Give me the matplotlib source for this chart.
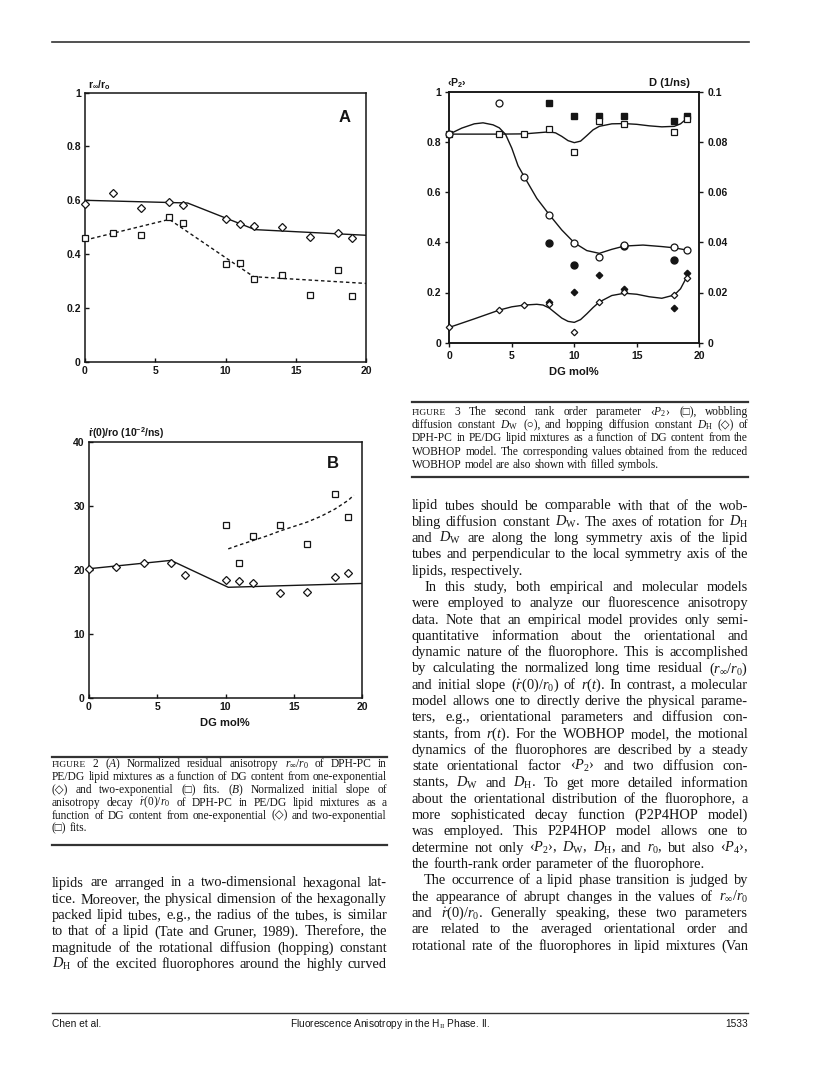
import matplotlib
matplotlib.use('Agg')
import matplotlib.pyplot as plt

plt.rcParams['mathtext.fontset'] = 'custom'
plt.rcParams['mathtext.rm'] = 'Liberation Serif'
plt.rcParams['mathtext.it'] = 'Liberation Serif:italic'
plt.rcParams['mathtext.bf'] = 'Liberation Sans:bold'

K = '#151515'
SANS = ['Liberation Sans', 'DejaVu Sans']
SERIF = ['Liberation Serif', 'DejaVu Sans']

# ---- Fig 2A : r_inf/r0 vs DG mol%
dg_a = [0, 2, 4, 6, 7, 10, 11, 12, 14, 16, 18, 19]
rinf_one = [0.585, 0.626, 0.570, 0.592, 0.584, 0.530, 0.511, 0.503, 0.502, 0.465, 0.478, 0.458]
rinf_two = [0.460, 0.477, 0.471, 0.537, 0.514, 0.364, 0.367, 0.309, 0.321, 0.249, 0.341, 0.245]
fitA_one_x = [0, 7.3, 12.1, 20]
fitA_one_y = [0.600, 0.590, 0.491, 0.470]
fitA_two_x = [0, 6, 12, 20]
fitA_two_y = [0.452, 0.529, 0.316, 0.291]

# ---- Fig 2B : initial slope
dg_b_one = [0, 2, 4, 6, 7, 10, 11, 12, 14, 16, 18, 19]
slope_one = [20.2, 20.4, 21.1, 21.1, 19.2, 18.4, 18.3, 18.0, 16.4, 16.5, 18.9, 19.5]
dg_b_two = [10, 11, 12, 14, 16, 18, 19]
slope_two = [27.1, 21.1, 25.3, 27.1, 24.1, 31.9, 28.3]
fitB_one_x = [0, 6, 10.2, 20]
fitB_one_y = [20.2, 21.5, 17.3, 17.9]
fitB_two_x = [10.2, 11, 12, 13, 14, 15, 16, 17, 18, 19, 19.4]
fitB_two_y = [23.3, 23.9, 24.6, 25.3, 26.1, 26.8, 27.5, 28.4, 29.5, 30.9, 31.7]

# ---- Fig 3 : WOBHOP parameters
dg3 = [0, 4, 6, 8, 10, 12, 14, 18, 19]
p2_open = [0.831, 0.831, 0.831, 0.853, 0.761, 0.883, 0.873, 0.841, 0.891]
dw_open = [0.0831, 0.0954, 0.0661, 0.0510, 0.0398, 0.0340, 0.0389, 0.0380, 0.0369]
dh_open = [0.0061, 0.0130, 0.0150, 0.0153, 0.0041, 0.0161, 0.0201, 0.0190, 0.0259]
dg3_red = [8, 10, 12, 14, 18, 19]
p2_red = [0.954, 0.903, 0.903, 0.903, 0.882, 0.903]
dh_red = [0.0163, 0.0201, 0.0268, 0.0212, 0.0139, 0.0279]
dg3_dw_red = [8, 10, 14, 18]
dw_red = [0.0398, 0.0309, 0.0386, 0.0329]
p2_curve_x = [0, 2, 4, 6, 7, 8, 8.5, 9, 9.5, 10, 10.5, 11, 11.5, 12, 13, 14, 15, 16, 17, 18, 18.5, 19]
p2_curve_y = [0.831, 0.831, 0.831, 0.832, 0.836, 0.840, 0.836, 0.822, 0.805, 0.797, 0.803, 0.825,
              0.848, 0.862, 0.872, 0.873, 0.870, 0.864, 0.860, 0.862, 0.872, 0.893]
dw_curve_x = [0, 1, 2, 2.7, 3.5, 4, 4.5, 5, 5.5, 6, 7, 8, 9, 10, 11, 12, 13, 14, 15.5, 17, 18, 19]
dw_curve_y = [0.0831, 0.0855, 0.0872, 0.0876, 0.0868, 0.0856, 0.0830, 0.0775, 0.0705, 0.0661, 0.0575,
              0.0510, 0.0449, 0.0398, 0.0367, 0.0356, 0.0372, 0.0385, 0.0389, 0.0383, 0.0378, 0.0369]
dh_curve_x = [0, 2, 4, 5, 6, 7, 7.5, 8, 8.5, 9, 9.5, 10, 10.5, 11, 11.5, 12, 13, 14, 15, 16, 17, 18, 18.5, 19]
dh_curve_y = [0.0061, 0.0095, 0.0130, 0.0143, 0.0150, 0.0153, 0.0150, 0.0138, 0.0118, 0.0098, 0.0085,
              0.0081, 0.0092, 0.0115, 0.0140, 0.0162, 0.0188, 0.0197, 0.0193, 0.0183, 0.0177, 0.0190,
              0.0215, 0.0262]

x_ticks = [0, 5, 10, 15, 20]

W, H = 816, 1082
fig = plt.figure(figsize=(W / 100, H / 100), dpi=100)


def fx(x):
    return x / W


def fy(y):
    return 1 - y / H


def box(l, t, r, b):
    return [l / W, 1 - b / H, (r - l) / W, (b - t) / H]


def hline(x0, x1, y, lw=1.0, color='#333333'):
    fig.add_artist(plt.Line2D([fx(x0), fx(x1)], [fy(y), fy(y)], lw=lw, color=color))


def style(ax, direction='in'):
    for s in ax.spines.values():
        s.set_linewidth(1.1)
        s.set_color(K)
    ax.tick_params(direction=direction, length=3, width=1, labelsize=7.5, pad=3, colors=K)
    for lab in ax.get_xticklabels() + ax.get_yticklabels():
        lab.set_fontweight('bold')
        lab.set_family(SANS)


dash = (0, (2.5, 2))
mk = dict(mfc='white', mec=K, mew=0.9, ls='none', clip_on=False, zorder=3)

# Figure 2A
axA = fig.add_axes(box(85, 92.7, 366, 361.7))
axA.plot(fitA_one_x, fitA_one_y, '-', color=K, lw=1.0)
axA.plot(fitA_two_x, fitA_two_y, color=K, lw=1.0, ls=dash)
axA.plot(dg_a, rinf_one, marker='D', ms=4, **mk)
axA.plot(dg_a, rinf_two, marker='s', ms=5, **mk)
axA.set_xlim(0, 20)
axA.set_ylim(0, 1)
axA.set_xticks(x_ticks)
axA.set_yticks([0, 0.2, 0.4, 0.6, 0.8, 1])
axA.set_yticklabels(['0', '0.2', '0.4', '0.6', '0.8', '1'])
style(axA)
fig.text(fx(345), fy(118), 'A', ha='center', va='center', fontsize=12, weight='bold', family=SANS, color=K)
fig.text(fx(88), fy(85), r'r$_{\mathbf{\infty}}$/r$_{\mathbf{o}}$', ha='left', va='center',
         fontsize=7.5, weight='bold', family=SANS, color=K)

# Figure 2B
axB = fig.add_axes(box(89, 442, 362, 698))
axB.plot(fitB_one_x, fitB_one_y, '-', color=K, lw=1.0)
axB.plot(fitB_two_x, fitB_two_y, color=K, lw=1.0, ls=dash)
axB.plot(dg_b_one, slope_one, marker='D', ms=4, **mk)
axB.plot(dg_b_two, slope_two, marker='s', ms=5, **mk)
axB.set_xlim(0, 20)
axB.set_ylim(0, 40)
axB.set_xticks(x_ticks)
axB.set_yticks([0, 10, 20, 30, 40])
style(axB)
fig.text(fx(333), fy(463), 'B', ha='center', va='center', fontsize=12, weight='bold', family=SANS, color=K)
fig.text(fx(88), fy(433), r'ṙ(0)/ro (10$^{\mathbf{-2}}$/ns)', ha='left', va='center',
         fontsize=7.5, weight='bold', family=SANS, color=K)
fig.text(fx(225), fy(723), 'DG mol%', ha='center', va='center', fontsize=8, weight='bold', family=SANS, color=K)

# Figure 3
ax3 = fig.add_axes(box(449.3, 91.7, 699.3, 342.7))
axD = ax3.twinx()
ax3.plot(p2_curve_x, p2_curve_y, '-', color=K, lw=1.0)
ax3.plot(dg3, p2_open, marker='s', ms=4.5, **mk)
ax3.plot(dg3_red, p2_red, marker='s', ms=4.5, ls='none', color=K, clip_on=False)
axD.plot(dw_curve_x, dw_curve_y, '-', color=K, lw=1.0)
axD.plot(dh_curve_x, dh_curve_y, '-', color=K, lw=1.0)
axD.plot(dg3, dw_open, marker='o', ms=5, **mk)
axD.plot(dg3, dh_open, marker='D', ms=3.3, **mk)
axD.plot(dg3_dw_red, dw_red, marker='o', ms=5, ls='none', color=K, clip_on=False)
axD.plot(dg3_red, dh_red, marker='D', ms=3.3, ls='none', color=K, clip_on=False)
ax3.set_xlim(0, 20)
ax3.set_ylim(0, 1)
axD.set_ylim(0, 0.1)
ax3.set_xticks(x_ticks)
ax3.set_yticks([0, 0.2, 0.4, 0.6, 0.8, 1])
ax3.set_yticklabels(['0', '0.2', '0.4', '0.6', '0.8', '1'])
axD.set_yticks([0, 0.02, 0.04, 0.06, 0.08, 0.1])
axD.set_yticklabels(['0', '0.02', '0.04', '0.06', '0.08', '0.1'])
style(ax3, 'out')
style(axD, 'out')
fig.text(fx(447), fy(83), r'‹P$_{\mathbf{2}}$›', ha='left', va='center', fontsize=7.5,
         weight='bold', family=SANS, color=K)
fig.text(fx(649), fy(83), 'D (1/ns)', ha='left', va='center', fontsize=8, weight='bold', family=SANS, color=K)
fig.text(fx(574), fy(372), 'DG mol%', ha='center', va='center', fontsize=8, weight='bold', family=SANS, color=K)

# ---- text blocks
renderer = fig.canvas.get_renderer()


def natural_width(line, size):
    t = fig.text(0, 0, line, fontsize=size, family=SERIF)
    w = t.get_window_extent(renderer).width
    t.remove()
    return w


def fit_size(lines, width, ref=10.0):
    # size at which the widest plain (no math) full line just fits the column
    plain = [ln for ln in lines if '$' not in ln]
    widest = max(natural_width(ln, ref) for ln in plain)
    return ref * width / widest * 0.995


def put_line(text, x0, x1, y, size, justify=True, indent=0):
    words = text.split()
    arts = []
    for w in words:
        sz = size * 0.82 if w == 'FIGURE' else size
        arts.append(fig.text(0, 0, w, fontsize=sz, family=SERIF, va='baseline', ha='left', color=K))
    widths = [a.get_window_extent(renderer).width for a in arts]
    span = x1 - x0 - indent
    scale = 1.0
    if justify and len(arts) > 1:
        gap = (span - sum(widths)) / (len(arts) - 1)
        if gap < 1.5:
            # squeeze the words a little instead of overlapping
            gap = 1.5
            scale = (span - gap * (len(arts) - 1)) / sum(widths)
    else:
        gap = size * 1.389 * 0.25
    x = x0 + indent
    for a, w in zip(arts, widths):
        if scale < 1.0:
            a.set_fontsize(a.get_fontsize() * scale)
            w = w * scale
        a.set_position((fx(x), fy(y)))
        x += w + gap


def put_block(paras, x0, x1, y0, step, size, base=3.5, indent=12):
    y = y0
    for ind, ends, lines in paras:
        for i, ln in enumerate(lines):
            last = ends and i == len(lines) - 1
            put_line(ln, x0, x1, y + base, size, justify=not last, indent=indent if (ind and i == 0) else 0)
            y += step


cap2 = [
    r'FIGURE 2  ($A$) Normalized residual anisotropy $r_\infty/r_0$ of DPH-PC in',
    'PE/DG lipid mixtures as a function of DG content from one-exponential',
    r'(◇) and two-exponential (□) fits. ($B$) Normalized initial slope of',
    r'anisotropy decay $\dot{r}(0)/r_0$ of DPH-PC in PE/DG lipid mixtures as a',
    'function of DG content from one-exponential (◇) and two-exponential',
    '(□) fits.',
]
cap3 = [
    r'FIGURE 3  The second rank order parameter ‹$P_2$› (□), wobbling',
    r'diffusion constant $D_\mathrm{W}$ (○), and hopping diffusion constant $D_\mathrm{H}$ (◇) of',
    'DPH-PC in PE/DG lipid mixtures as a function of DG content from the',
    'WOBHOP model. The corresponding values obtained from the reduced',
    'WOBHOP model are also shown with filled symbols.',
]
left_body = [
    'lipids are arranged in a two-dimensional hexagonal lat-',
    'tice. Moreover, the physical dimension of the hexagonally',
    'packed lipid tubes, e.g., the radius of the tubes, is similar',
    'to that of a lipid (Tate and Gruner, 1989). Therefore, the',
    'magnitude of the rotational diffusion (hopping) constant',
    r'$D_\mathrm{H}$ of the excited fluorophores around the highly curved',
]
right_p1 = [
    'lipid tubes should be comparable with that of the wob-',
    r'bling diffusion constant $D_\mathrm{W}$. The axes of rotation for $D_\mathrm{H}$',
    r'and $D_\mathrm{W}$ are along the long symmetry axis of the lipid',
    'tubes and perpendicular to the local symmetry axis of the',
    'lipids, respectively.',
]
right_p2 = [
    'In this study, both empirical and molecular models',
    'were employed to analyze our fluorescence anisotropy',
    'data. Note that an empirical model provides only semi-',
    'quantitative information about the orientational and',
    'dynamic nature of the fluorophore. This is accomplished',
    r'by calculating the normalized long time residual $(r_\infty/r_0)$',
    r'and initial slope $(\dot{r}(0)/r_0)$ of $r(t)$. In contrast, a molecular',
    'model allows one to directly derive the physical parame-',
    'ters, e.g., orientational parameters and diffusion con-',
    r'stants, from $r(t)$. For the WOBHOP model, the motional',
    'dynamics of the fluorophores are described by a steady',
    r'state orientational factor ‹$P_2$› and two diffusion con-',
    r'stants, $D_\mathrm{W}$ and $D_\mathrm{H}$. To get more detailed information',
    'about the orientational distribution of the fluorophore, a',
    'more sophisticated decay function (P2P4HOP model)',
    'was employed. This P2P4HOP model allows one to',
    r'determine not only ‹$P_2$›, $D_\mathrm{W}$, $D_\mathrm{H}$, and $r_0$, but also ‹$P_4$›,',
    'the fourth-rank order parameter of the fluorophore.',
]
right_p3 = [
    'The occurrence of a lipid phase transition is judged by',
    r'the appearance of abrupt changes in the values of $r_\infty/r_0$',
    r'and $\dot{r}(0)/r_0$. Generally speaking, these two parameters',
    'are related to the averaged orientational order and',
    'rotational rate of the fluorophores in lipid mixtures (Van',
]

body_size = fit_size(left_body + right_p1[:4] + right_p2[:-1] + right_p3, 336)
cap_size = fit_size(cap2[1:5] + cap3[1:4], 336, ref=8.0)

hline(52, 749, 42, lw=1.2)

hline(52, 387, 757, lw=1.6)
put_block([(False, True, cap2)], 52, 387, 764, 12.9, cap_size, base=3)
hline(52, 387, 845, lw=1.6)

hline(412, 748, 402, lw=1.6)
put_block([(False, True, cap3)], 412, 748, 412, 13.2, cap_size, base=3)
hline(412, 748, 477, lw=1.6)

put_block([(False, False, left_body)], 52, 387, 883, 16.3, body_size)
put_block([(False, True, right_p1), (True, True, right_p2), (True, False, right_p3)],
          412, 748, 506, 16.3, body_size)

# footer
hline(52, 748, 1013, lw=1.0)
fig.text(fx(52), fy(1027), 'Chen et al.', ha='left', va='baseline', fontsize=7.3, family=SANS, color=K)
fig.text(fx(290), fy(1027), r'Fluorescence Anisotropy in the H$_{\mathrm{II}}$ Phase. II.', ha='left',
         va='baseline', fontsize=7.3, family=SANS, color=K)
fig.text(fx(748), fy(1027), '1533', ha='right', va='baseline', fontsize=7.3, family=SANS, color=K)

fig.savefig('out.png', dpi=100)
